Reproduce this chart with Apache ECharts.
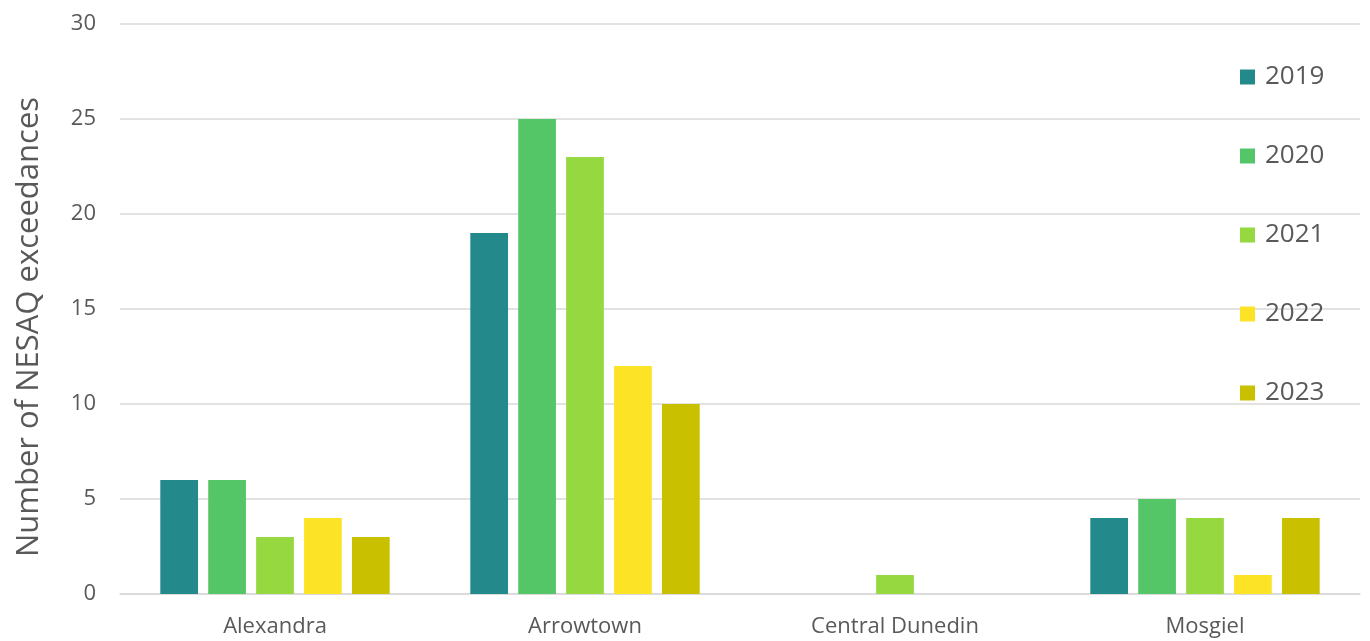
<!DOCTYPE html>
<html>
<head>
<meta charset="utf-8">
<style>
  html, body { margin: 0; padding: 0; background: #ffffff; }
  #chart { width: 1370px; height: 641px; }
</style>
<script src="https://cdn.jsdelivr.net/npm/echarts@6/dist/echarts.min.js"></script>
</head>
<body>
<div id="chart"></div>
<script>
// Sites along the x axis
const sites = ['Alexandra', 'Arrowtown', 'Central Dunedin', 'Mosgiel'];

// Exceedance counts per year, one value per site
const years = ['2019', '2020', '2021', '2022', '2023'];
const counts2019 = [6, 19, 0, 4];
const counts2020 = [6, 25, 0, 5];
const counts2021 = [3, 23, 1, 4];
const counts2022 = [4, 12, 0, 1];
const counts2023 = [3, 10, 0, 4];

const yearColors = ['#23898b', '#55c667', '#95d840', '#fde326', '#c9c000'];
const seriesValues = [counts2019, counts2020, counts2021, counts2022, counts2023];

const textGrey = '#595959';
const font = '"Open Sans", "Noto Sans", sans-serif';

const chart = echarts.init(document.getElementById('chart'), null, { renderer: 'canvas' });

chart.setOption({
  animation: false,
  backgroundColor: '#ffffff',
  grid: { left: 120, right: 10, top: 24, bottom: 47, containLabel: false },
  legend: {
    orient: 'vertical',
    left: 1240,
    top: 64,
    padding: 0,
    itemWidth: 15,
    itemHeight: 15,
    itemGap: 53,
    icon: 'rect',
    textStyle: {
      color: textGrey, fontSize: 26, lineHeight: 25, fontFamily: font,
      padding: [0, 0, 0, 5]
    },
    data: years
  },
  xAxis: {
    type: 'category',
    data: sites,
    axisLine: { show: true, lineStyle: { color: '#d9d9d9', width: 1.5 } },
    axisTick: { show: false },
    axisLabel: { color: textGrey, fontSize: 22, fontFamily: font, margin: 22 }
  },
  yAxis: {
    type: 'value',
    min: 0,
    max: 30,
    interval: 5,
    axisLine: { show: false },
    axisTick: { show: false },
    splitLine: { lineStyle: { color: '#d9d9d9', width: 1.5 } },
    axisLabel: { color: textGrey, fontSize: 22, fontFamily: font, margin: 24 }
  },
  graphic: [{
    type: 'text',
    x: 29,
    y: 327,
    rotation: Math.PI / 2,
    style: {
      text: 'Number of NESAQ exceedances',
      fill: textGrey,
      font: '31px ' + font,
      textAlign: 'center',
      textVerticalAlign: 'middle'
    }
  }],
  series: years.map((y, i) => ({
    name: y,
    type: 'bar',
    data: seriesValues[i],
    itemStyle: { color: yearColors[i] },
    barGap: '27%',
    barCategoryGap: '26%'
  }))
});
</script>
</body>
</html>
